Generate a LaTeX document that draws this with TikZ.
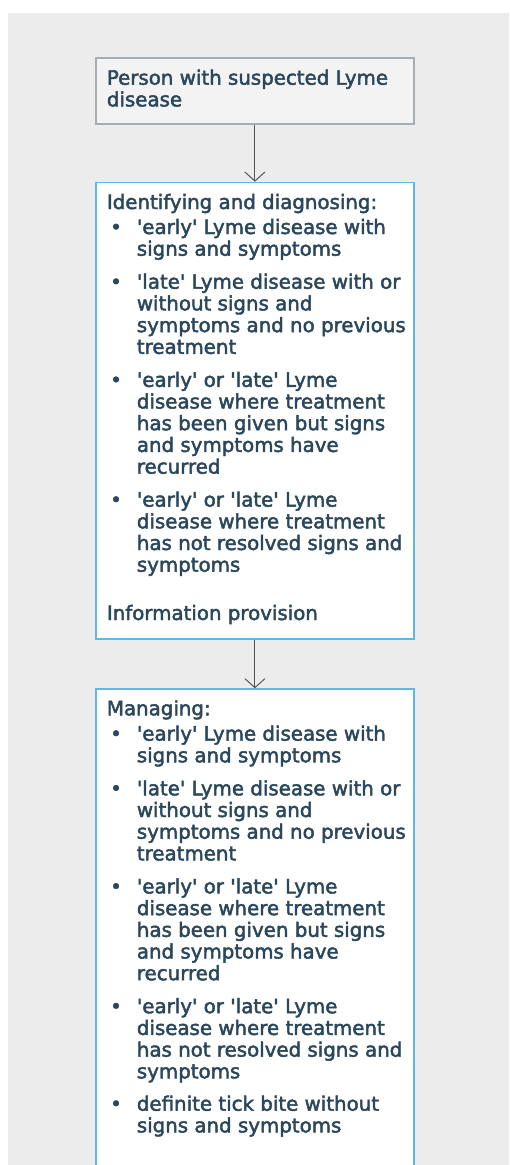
\documentclass[tikz,border=0pt]{standalone}
\usepackage{fontspec}
\setmainfont{DejaVu Sans}[Ligatures=TeXOff]
\newfontfamily\dfont{DejaVu Sans}[Ligatures=TeXOff]
\newcommand\heavytext{\special{pdf:literal direct 2 Tr 0.45 w}}
\usetikzlibrary{arrows.meta}
\definecolor{bgc}{HTML}{ECECEC}
\definecolor{txtc}{HTML}{2B475C}
\definecolor{startfill}{HTML}{F3F3F3}
\definecolor{startline}{HTML}{A6AEB4}
\definecolor{boxline}{HTML}{5DB8E6}
\definecolor{arrc}{HTML}{555555}
\tikzset{
  txt/.style={anchor=base west, inner sep=0pt, text=txtc, font={\dfont\fontsize{19.8}{21.7}\selectfont\heavytext}},
  startbox/.style={draw=startline, fill=startfill, line width=1.5pt, anchor=north west, minimum width=318.3pt, inner sep=0pt},
  mainbox/.style={draw=boxline, fill=white, line width=1.5pt, anchor=north west, minimum width=318.3pt, inner sep=0pt},
  arr/.style={draw=arrc, line width=1pt, -{Straight Barb[length=9pt,width=20pt]}},
}
\newcommand\blt[2]{\node[txt] (#1) at (110,#2) {•};}
\newcommand\fouritems[1]{%
  \blt{#1b1}{52.3}
  \node[txt] (#1i1a) at (136.7,52.3) {'early' Lyme disease with};
  \node[txt] (#1i1b) at (136.7,74) {signs and symptoms};
  \blt{#1b2}{107}
  \node[txt] (#1i2a) at (136.7,107) {'late' Lyme disease with or};
  \node[txt] (#1i2b) at (136.7,128.7) {without signs and};
  \node[txt] (#1i2c) at (136.7,150.4) {symptoms and no previous};
  \node[txt] (#1i2d) at (136.7,172.1) {treatment};
  \blt{#1b3}{205.1}
  \node[txt] (#1i3a) at (136.7,205.1) {'early' or 'late' Lyme};
  \node[txt] (#1i3b) at (136.7,226.8) {disease where treatment};
  \node[txt] (#1i3c) at (136.7,248.5) {has been given but signs};
  \node[txt] (#1i3d) at (136.7,270.2) {and symptoms have};
  \node[txt] (#1i3e) at (136.7,291.9) {recurred};
  \blt{#1b4}{324.9}
  \node[txt] (#1i4a) at (136.7,324.9) {'early' or 'late' Lyme};
  \node[txt] (#1i4b) at (136.7,346.6) {disease where treatment};
  \node[txt] (#1i4c) at (136.7,368.3) {has not resolved signs and};
  \node[txt] (#1i4d) at (136.7,390) {symptoms};
}
\begin{document}
\begin{tikzpicture}[x=1pt,y=-1pt]
\useasboundingbox (0,0) rectangle (509,1165);
\clip (0,0) rectangle (509,1165);
\fill[bgc] (8,13) rectangle (509,1165);

% start box
\node[startbox, minimum height=66pt] (start) at (95,57.3) {};
\node[txt] (s1) at (106.7,84.7) {Person with suspected Lyme};
\node[txt] (s2) at (106.7,106.4) {disease};

% diagnosing box
\node[mainbox, minimum height=456.3pt] (diag) at (95,181.7) {};
\begin{scope}[shift={(0,181.7)}]
  \node[txt] (dh) at (106.7,27.3) {Identifying and diagnosing:};
  \fouritems{d}
  \node[txt] (dinfo) at (106.7,438.3) {Information provision};
\end{scope}

% managing box
\node[mainbox, minimum height=500pt] (manage) at (95,688.3) {};
\begin{scope}[shift={(0,688.3)}]
  \node[txt] (mh) at (106.7,27) {Managing:};
  \fouritems{m}
  \blt{mb5}{422.4}
  \node[txt] (mi5a) at (136.7,422.4) {definite tick bite without};
  \node[txt] (mi5b) at (136.7,444.1) {signs and symptoms};
\end{scope}

% connectors
\draw[arr] (start.south) -- (diag.north);
\draw[arr] (diag.south) -- (manage.north);
\end{tikzpicture}
\end{document}
